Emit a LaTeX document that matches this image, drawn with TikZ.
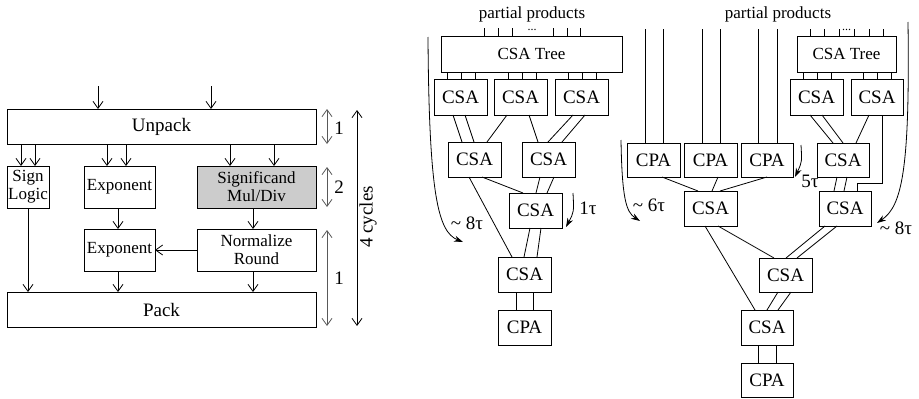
\documentclass[tikz,border=0pt]{standalone}
\usepackage{fontspec}
\setmainfont{Liberation Serif}
\usetikzlibrary{arrows.meta}
\begin{document}
\begin{tikzpicture}[x=1pt,y=-1pt,
 blk/.style={draw, line width=0.8pt, inner sep=0pt, outer sep=0pt, align=center, font=\fontsize{17}{18}\selectfont},
 big/.style={font=\fontsize{19}{20}\selectfont},
 shaded/.style={fill=gray!40},
 wire/.style={line width=0.8pt},
 arr/.style={line width=0.8pt, -{Straight Barb[length=7pt,width=10pt]}},
 dim/.style={line width=0.8pt, draw=gray!70!black, {Straight Barb[length=7pt,width=10pt]}-{Straight Barb[length=7pt,width=10pt]}},
 blackdim/.style={line width=0.8pt, {Straight Barb[length=7pt,width=10pt]}-{Straight Barb[length=7pt,width=10pt]}},
 delay/.style={line width=0.8pt, -{Stealth[length=9pt,width=6pt]}},
 lbl/.style={inner sep=0pt, font=\fontsize{17}{18}\selectfont},
 taulbl/.style={inner sep=0pt, font=\fontsize{19}{20}\selectfont},
 dimlbl/.style={inner sep=0pt, font=\fontsize{19}{20}\selectfont},
 dotlbl/.style={inner sep=0pt, font=\fontsize{12}{12}\selectfont}
]
\useasboundingbox (0,0) rectangle (919,399);

% ---------------- left: pipeline ----------------
\node[blk,big,minimum width=309,minimum height=35] (unpack) at (161.5,126.5) {Unpack};
\node[blk,minimum width=42,minimum height=42] (sign) at (28,187) {Sign\\Logic};
\node[blk,minimum width=71,minimum height=42] (exp1) at (119.5,187) {Exponent};
\node[blk,shaded,minimum width=119,minimum height=42] (sig) at (256.5,187) {Significand\\Mul/Div};
\node[blk,minimum width=71,minimum height=42] (exp2) at (119.5,250) {Exponent};
\node[blk,minimum width=119,minimum height=42] (norm) at (256.5,250) {Normalize\\Round};
\node[blk,big,minimum width=309,minimum height=35] (pack) at (161.5,309.5) {Pack};

\coordinate (in1) at (98,86);
\coordinate (in2) at (211,86);
\draw[arr] (in1) -- (in1 |- unpack.north);
\draw[arr] (in2) -- (in2 |- unpack.north);

\draw[arr] (21,0 |- unpack.south) -- (21,0 |- sign.north);
\draw[arr] (35,0 |- unpack.south) -- (35,0 |- sign.north);
\draw[arr] (107,0 |- unpack.south) -- (107,0 |- exp1.north);
\draw[arr] (126,0 |- unpack.south) -- (126,0 |- exp1.north);
\draw[arr] (230,0 |- unpack.south) -- (230,0 |- sig.north);
\draw[arr] (274,0 |- unpack.south) -- (274,0 |- sig.north);

\draw[arr] (28,0 |- sign.south) -- (28,0 |- pack.north);
\draw[arr] (118,0 |- exp1.south) -- (118,0 |- exp2.north);
\draw[arr] (253,0 |- sig.south) -- (253,0 |- norm.north);
\draw[arr] (118,0 |- exp2.south) -- (118,0 |- pack.north);
\draw[arr] (253,0 |- norm.south) -- (253,0 |- pack.north);
\draw[arr] (norm.west) -- (exp2.east);

\coordinate (d1a) at (327,109);
\coordinate (d1b) at (327,144);
\coordinate (d2a) at (327,167);
\coordinate (d2b) at (327,207);
\coordinate (d3a) at (327,230);
\coordinate (d3b) at (327,326);
\coordinate (d4a) at (357,110);
\coordinate (d4b) at (357,326);
\draw[dim] (d1a) -- (d1b);
\draw[dim] (d2a) -- (d2b);
\draw[dim] (d3a) -- (d3b);
\draw[blackdim] (d4a) -- (d4b);
\node[dimlbl] (l1) at (339,128) {1};
\node[dimlbl] (l2) at (339,187) {2};
\node[dimlbl] (l3) at (339,278) {1};
\node[dimlbl,rotate=90] (l4) at (368,217) {4 cycles};

% ---------------- middle: tree multiplier ----------------
\node[lbl] (pp1) at (532,14) {partial products};
\node[blk,minimum width=181,minimum height=36] (tree1) at (531.5,54) {CSA Tree};
\foreach \x in {484,498,512,553,567,580} \draw[wire] (\x,28) -- (\x,0 |- tree1.north);
\node[dotlbl] (dots1) at (532,30) {...};

\node[blk,big,minimum width=53,minimum height=36] (c1) at (460.5,97) {CSA};
\node[blk,big,minimum width=53,minimum height=36] (c2) at (520.5,97) {CSA};
\node[blk,big,minimum width=53,minimum height=36] (c3) at (581.5,97) {CSA};
\foreach \x in {447,461,475} \draw[wire] (\x,0 |- tree1.south) -- (\x,0 |- c1.north);
\foreach \x in {508,522,536} \draw[wire] (\x,0 |- tree1.south) -- (\x,0 |- c2.north);
\foreach \x in {568,582,596} \draw[wire] (\x,0 |- tree1.south) -- (\x,0 |- c3.north);

\node[blk,big,minimum width=53,minimum height=35] (ca) at (474.5,159.5) {CSA};
\node[blk,big,minimum width=53,minimum height=35] (cb) at (548.5,159.5) {CSA};
\node[blk,big,minimum width=53,minimum height=35] (cc) at (535.5,210.5) {CSA};
\node[blk,big,minimum width=53,minimum height=35] (cd) at (524.5,274.5) {CSA};
\node[blk,big,minimum width=53,minimum height=35] (cp1) at (524.5,327.5) {CPA};

\draw[wire] (453,0 |- c1.south) -- (462,0 |- ca.north);
\draw[wire] (465,0 |- c1.south) -- (474,0 |- ca.north);
\draw[wire] (507,0 |- c2.south) -- (487,0 |- ca.north);
\draw[wire] (529,0 |- c2.south) -- (538,0 |- cb.north);
\draw[wire] (573,0 |- c3.south) -- (548,0 |- cb.north);
\draw[wire] (585,0 |- c3.south) -- (562,0 |- cb.north);
\draw[wire] (469,0 |- ca.south) -- (512,0 |- cd.north);
\draw[wire] (482,0 |- ca.south) -- (523,0 |- cc.north);
\draw[wire] (540,0 |- cb.south) -- (536,0 |- cc.north);
\draw[wire] (554,0 |- cb.south) -- (547,0 |- cc.north);
\draw[wire] (530,0 |- cc.south) -- (524,0 |- cd.north);
\draw[wire] (541,0 |- cc.south) -- (537,0 |- cd.north);
\draw[wire] (516,0 |- cd.south) -- (516,0 |- cp1.north);
\draw[wire] (533,0 |- cd.south) -- (533,0 |- cp1.north);

\coordinate (t8a) at (428,37);
\coordinate (t8b) at (463,242);
\draw[delay] (t8a) .. controls (429,195) and (438,232) .. (t8b);
\node[taulbl] (lt8) at (467,223) {\textasciitilde\ 8τ};
\coordinate (t1a) at (573,193);
\coordinate (t1b) at (566,227);
\draw[delay] (t1a) .. controls (574,212) .. (t1b);
\node[taulbl] (lt1) at (588,208) {1τ};

% ---------------- right: hybrid multiplier ----------------
\node[lbl] (pp2) at (778,14) {partial products};
\node[blk,big,minimum width=53,minimum height=34] (pa) at (653.5,160) {CPA};
\node[blk,big,minimum width=53,minimum height=34] (pb) at (710.5,160) {CPA};
\node[blk,big,minimum width=52,minimum height=34] (pc) at (767,160) {CPA};
\draw[wire] (645,29) -- (645,0 |- pa.north);
\draw[wire] (663,29) -- (663,0 |- pa.north);
\draw[wire] (702,29) -- (702,0 |- pb.north);
\draw[wire] (720,29) -- (720,0 |- pb.north);
\draw[wire] (758,29) -- (758,0 |- pc.north);
\draw[wire] (777,29) -- (777,0 |- pc.north);

\node[blk,minimum width=99,minimum height=36] (tree2) at (846.5,54) {CSA Tree};
\foreach \x in {810,824,839,854,869,883} \draw[wire] (\x,29) -- (\x,0 |- tree2.north);
\node[dotlbl] (dots2) at (846.5,30) {...};

\node[blk,big,minimum width=53,minimum height=36] (ce) at (816.5,97) {CSA};
\node[blk,big,minimum width=52,minimum height=36] (cf) at (877,97) {CSA};
\foreach \x in {803,817,831} \draw[wire] (\x,0 |- tree2.south) -- (\x,0 |- ce.north);
\foreach \x in {863,877,891} \draw[wire] (\x,0 |- tree2.south) -- (\x,0 |- cf.north);

\node[blk,big,minimum width=52,minimum height=34] (cg) at (843,160) {CSA};
\node[blk,big,minimum width=53,minimum height=35] (ch) at (710.5,208.5) {CSA};
\node[blk,big,minimum width=52,minimum height=35] (ci) at (845,208.5) {CSA};
\node[blk,big,minimum width=53,minimum height=34] (cj) at (785.5,275) {CSA};
\node[blk,big,minimum width=52,minimum height=35] (ck) at (767,327.5) {CSA};
\node[blk,big,minimum width=52,minimum height=34] (cp2) at (767,380) {CPA};

\draw[wire] (810,0 |- ce.south) -- (833,0 |- cg.north);
\draw[wire] (822,0 |- ce.south) -- (843,0 |- cg.north);
\draw[wire] (869,0 |- cf.south) -- (856,0 |- cg.north);
\draw[wire] (882,0 |- cf.south) -- (882,183) -- (857,183) -- (857,0 |- ci.north);
\draw[wire] (837,0 |- cg.south) -- (834,0 |- ci.north);
\draw[wire] (847,0 |- cg.south) -- (844,0 |- ci.north);
\draw[wire] (662,0 |- pa.south) -- (698,0 |- ch.north);
\draw[wire] (718,0 |- pb.south) -- (712,0 |- ch.north);
\draw[wire] (767,0 |- pc.south) -- (720,0 |- ch.north);
\draw[wire] (705,0 |- ch.south) -- (755,0 |- ck.north);
\draw[wire] (718,0 |- ch.south) -- (774,0 |- cj.north);
\draw[wire] (825,0 |- ci.south) -- (786,0 |- cj.north);
\draw[wire] (837,0 |- ci.south) -- (797,0 |- cj.north);
\draw[wire] (778,0 |- cj.south) -- (767,0 |- ck.north);
\draw[wire] (791,0 |- cj.south) -- (778,0 |- ck.north);
\draw[wire] (758,0 |- ck.south) -- (758,0 |- cp2.north);
\draw[wire] (776,0 |- ck.south) -- (776,0 |- cp2.north);

\coordinate (t6a) at (621,140);
\coordinate (t6b) at (640,221);
\draw[delay] (t6a) .. controls (622,198) and (626,212) .. (t6b);
\node[taulbl] (lt6) at (649,205) {\textasciitilde\ 6τ};
\coordinate (t5a) at (801,145);
\coordinate (t5b) at (795,177);
\draw[delay] (t5a) .. controls (802,162) .. (t5b);
\node[taulbl] (lt5) at (810,181) {5τ};
\coordinate (r8a) at (908,22);
\coordinate (r8b) at (877,223);
\draw[delay] (r8a) .. controls (910,170) and (902,206) .. (r8b);
\node[taulbl] (lr8) at (896,228) {\textasciitilde\ 8τ};
\end{tikzpicture}
\end{document}
